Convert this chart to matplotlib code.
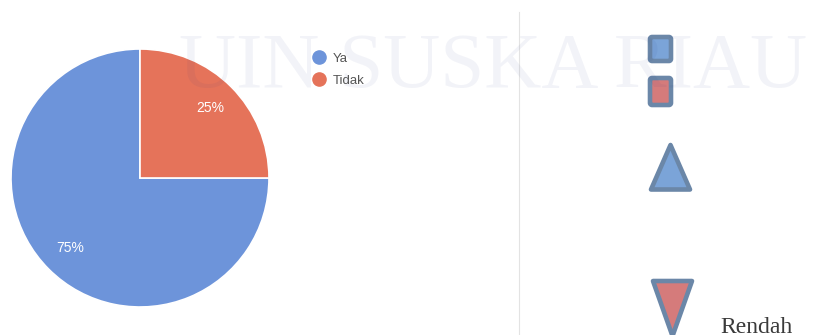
import matplotlib.pyplot as plt
from matplotlib.lines import Line2D
from matplotlib.patches import FancyBboxPatch, Polygon

W, H = 819, 335

labels = ["Ya", "Tidak"]
shares = [75, 25]
pie_colors = ["#6d94da", "#e5735a"]

watermark = "UIN SUSKA RIAU"
side_label = "Rendah"

# decorative shapes on the right panel (pixel coords)
EDGE = "#6b87a8"
squares = [((650, 37), 21, 24, "#7ba4d8"), ((650, 78), 21, 27, "#d57b7b")]
triangles = [
    ([(670.5, 145), (651, 189.5), (690, 189.5)], "#7ba4d8"),
    ([(653, 281), (692, 281), (672.5, 336)], "#d57b7b"),
]

fig = plt.figure(figsize=(W / 100, H / 100), dpi=100)
fig.patch.set_facecolor("white")

# pie
cx, cy, r = 140, 178, 129
ax = fig.add_axes([(cx - r) / W, (H - cy - r) / H, 2 * r / W, 2 * r / H])
wedges, _, autotexts = ax.pie(
    shares,
    colors=pie_colors,
    startangle=90,
    counterclock=True,
    autopct="%1.0f%%",
    pctdistance=0.77,
    wedgeprops=dict(edgecolor="white", linewidth=1.2),
    textprops=dict(color="white", fontsize=10, family="Liberation Sans"),
)
ax.set_xlim(-1, 1)
ax.set_ylim(-1, 1)
ax.axis("off")

handles = [
    Line2D([0], [0], marker="o", linestyle="none", markersize=9.5,
           markerfacecolor=c, markeredgecolor=c, label=l)
    for c, l in zip(pie_colors, labels)
]
fig.legend(
    handles=handles,
    loc="upper left",
    bbox_to_anchor=(299 / W, 1 - 46 / H),
    frameon=False,
    handletextpad=0.05,
    labelspacing=0.75,
    borderpad=0,
    labelcolor="#555555",
    prop=dict(family="Liberation Sans", size=9.5),
)

# overlay in pixel coords
deco = fig.add_axes([0, 0, 1, 1], zorder=5)
deco.set_xlim(0, W)
deco.set_ylim(H, 0)
deco.axis("off")
deco.patch.set_alpha(0)

deco.plot([519, 519], [12, H], color="#e3e3e3", linewidth=0.8)

for (x, y), w, h, fc in squares:
    deco.add_patch(FancyBboxPatch((x, y), w, h, boxstyle="round,pad=0,rounding_size=2",
                                  facecolor=fc, edgecolor=EDGE, linewidth=3.3,
                                  joinstyle="round", mutation_aspect=1))
for pts, fc in triangles:
    deco.add_patch(Polygon(pts, closed=True, facecolor=fc, edgecolor=EDGE,
                           linewidth=3.3, joinstyle="round"))

deco.text(720, 333, side_label, fontsize=17, family="Liberation Serif",
          color="#3a3a3a", ha="left", va="baseline")

deco.text(493, 87, watermark, fontsize=57, family="Liberation Serif",
          color="#1f2f80", alpha=0.055, ha="center", va="baseline")

fig.savefig("out.png", dpi=100)
